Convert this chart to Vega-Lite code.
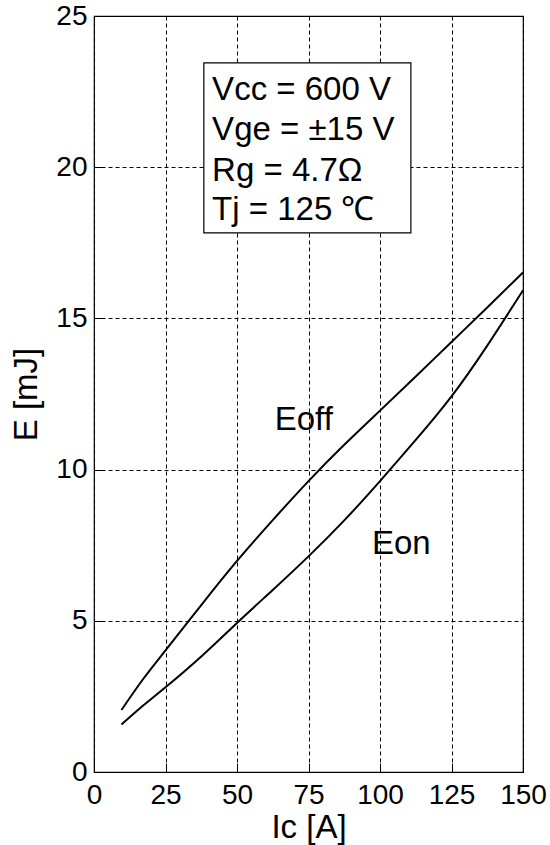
{
  "$schema": "https://vega.github.io/schema/vega-lite/v6.json",
  "width": 429,
  "height": 756,
  "autosize": {"type": "none"},
  "padding": {"left": 94, "top": 16, "right": 27, "bottom": 73},
  "background": "white",
  "config": {
    "view": {"stroke": "black", "strokeWidth": 1.2},
    "font": "Liberation Sans",
    "axis": {
      "grid": true,
      "gridColor": "black",
      "gridDash": [4, 3],
      "gridOpacity": 1,
      "gridWidth": 1,
      "domain": false,
      "ticks": true,
      "tickSize": -9,
      "tickColor": "black",
      "tickWidth": 1,
      "labelFont": "Liberation Sans",
      "labelFontSize": 28,
      "labelColor": "black",
      "titleFont": "Liberation Sans",
      "titleFontSize": 33,
      "titleFontWeight": "normal",
      "titleColor": "black"
    }
  },
  "datasets": {
    "curves": [
      {"series": "Eoff", "ic": 9.6, "e": 2.05},
      {"series": "Eoff", "ic": 17, "e": 3.05},
      {"series": "Eoff", "ic": 25, "e": 4.02},
      {"series": "Eoff", "ic": 37.5, "e": 5.52},
      {"series": "Eoff", "ic": 50, "e": 6.98},
      {"series": "Eoff", "ic": 62.5, "e": 8.33},
      {"series": "Eoff", "ic": 75, "e": 9.62},
      {"series": "Eoff", "ic": 87.5, "e": 10.82},
      {"series": "Eoff", "ic": 100, "e": 11.95},
      {"series": "Eoff", "ic": 112.5, "e": 13.08},
      {"series": "Eoff", "ic": 125, "e": 14.22},
      {"series": "Eoff", "ic": 137.5, "e": 15.36},
      {"series": "Eoff", "ic": 150, "e": 16.52},
      {"series": "Eon", "ic": 9.6, "e": 1.57},
      {"series": "Eon", "ic": 17, "e": 2.18},
      {"series": "Eon", "ic": 25, "e": 2.8},
      {"series": "Eon", "ic": 37.5, "e": 3.82},
      {"series": "Eon", "ic": 50, "e": 4.93},
      {"series": "Eon", "ic": 62.5, "e": 6.02},
      {"series": "Eon", "ic": 75, "e": 7.13},
      {"series": "Eon", "ic": 87.5, "e": 8.32},
      {"series": "Eon", "ic": 100, "e": 9.62},
      {"series": "Eon", "ic": 112.5, "e": 10.98},
      {"series": "Eon", "ic": 125, "e": 12.42},
      {"series": "Eon", "ic": 137.5, "e": 14.1},
      {"series": "Eon", "ic": 150, "e": 15.93}
    ],
    "labels": [
      {"label": "Eoff", "ic": 63.2, "e": 11.31},
      {"label": "Eon", "ic": 97.2, "e": 7.21}
    ],
    "box": [
      {"x1": 38.4, "x2": 110.8, "y1": 17.83, "y2": 23.45}
    ],
    "boxtext": [
      {"line": "Vcc = 600 V", "ic": 41.3, "e": 22.23},
      {"line": "Vge = ±15 V", "ic": 41.3, "e": 20.89},
      {"line": "Rg = 4.7Ω", "ic": 41.3, "e": 19.55},
      {"line": "Tj = 125 ℃", "ic": 41.3, "e": 18.24}
    ]
  },
  "layer": [
    {
      "data": {"name": "box"},
      "mark": {"type": "rect", "fill": "white", "stroke": "black", "strokeWidth": 1.2},
      "encoding": {
        "x": {"field": "x1", "type": "quantitative", "scale": {"domain": [0, 150], "nice": false, "zero": false},
          "axis": {"values": [0, 25, 50, 75, 100, 125, 150], "title": "Ic [A]", "labelPadding": 18, "titlePadding": 2, "labelFlush": false}},
        "x2": {"field": "x2"},
        "y": {"field": "y1", "type": "quantitative", "scale": {"domain": [0, 25], "nice": false, "zero": false},
          "axis": {"values": [0, 5, 10, 15, 20, 25], "title": "E [mJ]", "labelPadding": 16, "titlePadding": 12, "labelFlush": false}},
        "y2": {"field": "y2"}
      }
    },
    {
      "data": {"name": "boxtext"},
      "mark": {"type": "text", "align": "left", "baseline": "alphabetic", "fontSize": 33, "font": "Liberation Sans", "color": "black"},
      "encoding": {
        "x": {"field": "ic", "type": "quantitative"},
        "y": {"field": "e", "type": "quantitative"},
        "text": {"field": "line"}
      }
    },
    {
      "data": {"name": "curves"},
      "mark": {"type": "line", "color": "black", "strokeWidth": 2, "interpolate": "natural"},
      "encoding": {
        "x": {"field": "ic", "type": "quantitative"},
        "y": {"field": "e", "type": "quantitative"},
        "detail": {"field": "series"}
      }
    },
    {
      "data": {"name": "labels"},
      "mark": {"type": "text", "align": "left", "baseline": "alphabetic", "fontSize": 33, "font": "Liberation Sans", "color": "black"},
      "encoding": {
        "x": {"field": "ic", "type": "quantitative"},
        "y": {"field": "e", "type": "quantitative"},
        "text": {"field": "label"}
      }
    }
  ]
}
